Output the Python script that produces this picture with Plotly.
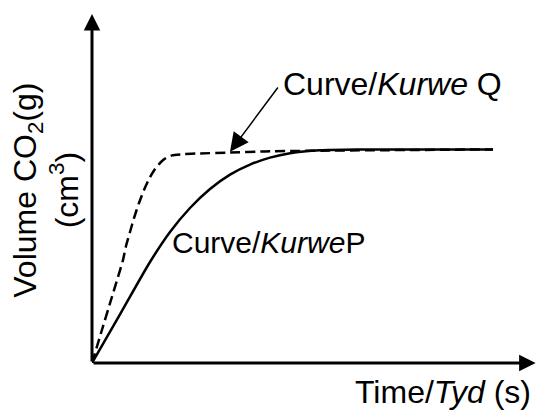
import plotly.graph_objects as go

# Curve P (solid) - time / volume in arbitrary units
time_p = [0, 7.25, 14.5, 19.5, 24.5, 29.5, 34.5, 39.5, 44.5, 49.5, 57, 67, 100.25]
vol_p = [0, 12.6, 25.25, 32.75, 38.75, 43.5, 47.1, 49.6, 51.35, 52.45, 53.2, 53.4, 53.4]

# Curve Q (dashed)
time_q = [0, 2.25, 4.75, 6.5, 7.75, 8.5, 9.5, 10.5, 11.75, 13, 14.25, 15.75, 17.25, 18.5, 20, 23.25, 27, 34.5, 43.25, 59.5, 100.25]
vol_q = [0, 7.5, 15.75, 21.5, 25.75, 29.25, 32.75, 36.25, 40, 43.25, 46, 48.5, 50.25, 51.25, 51.9, 52.25, 52.4, 52.6, 52.9, 53.1, 53.4]

label_p = "Curve/<i>Kurwe</i>P"
label_q = "Curve/<i>Kurwe</i> Q"
x_title = "Time/<i>Tyd</i> (s)"
y_title = "Volume CO<sub>2</sub>(g)<br>(cm<sup>3</sup>)"

X_MAX = 111
Y_MAX = 87.25

fig = go.Figure()
fig.add_trace(go.Scatter(x=time_q, y=vol_q, mode="lines",
                         line=dict(color="black", width=2.5, dash="10px,5px", shape="spline", smoothing=0.5),
                         hoverinfo="skip", cliponaxis=False))
fig.add_trace(go.Scatter(x=time_p, y=vol_p, mode="lines",
                         line=dict(color="black", width=2.5, shape="spline", smoothing=0.7),
                         hoverinfo="skip", cliponaxis=False))

font = dict(family="Liberation Sans, Arial, sans-serif", size=32, color="black")
font_p = dict(family="Liberation Sans, Arial, sans-serif", size=30, color="black")

annotations = [
    # y axis arrow
    dict(x=0, y=Y_MAX, ax=0, ay=0, xref="x", yref="y", axref="x", ayref="y",
         showarrow=True, arrowhead=2, arrowsize=1.1, arrowwidth=3, arrowcolor="black", text=""),
    # x axis arrow
    dict(x=110.9, y=0, ax=0, ay=0, xref="x", yref="y", axref="x", ayref="y",
         showarrow=True, arrowhead=2, arrowsize=1.1, arrowwidth=3, arrowcolor="black", text=""),
    # pointer to curve Q
    dict(x=34.5, y=52.8, ax=46.75, ay=69.25, xref="x", yref="y", axref="x", ayref="y",
         showarrow=True, arrowhead=2, arrowsize=2.5, arrowwidth=1.5, arrowcolor="black", text=""),
    dict(x=47.25, y=69.75, xref="x", yref="y", text=label_q, showarrow=False,
         xanchor="left", yanchor="middle", font=font),
    dict(x=19.5, y=30.25, xref="x", yref="y", text=label_p, showarrow=False,
         xanchor="left", yanchor="middle", font=font_p),
    dict(x=0.993, y=-0.083, xref="paper", yref="paper", text=x_title, showarrow=False,
         xanchor="right", yanchor="middle", font=font),
    dict(x=-0.104, y=0.496, xref="paper", yref="paper", text=y_title, showarrow=False,
         textangle=-90, xanchor="center", yanchor="middle", align="center", font=font),
]

fig.update_layout(
    width=536, height=410, autosize=False,
    margin=dict(l=92, r=0, t=14, b=47, pad=0),
    paper_bgcolor="white", plot_bgcolor="white",
    showlegend=False,
    annotations=annotations,
    xaxis=dict(range=[0, X_MAX], showgrid=False, zeroline=False, showticklabels=False,
               ticks="", showline=False, fixedrange=True),
    yaxis=dict(range=[0, Y_MAX], showgrid=False, zeroline=False, showticklabels=False,
               ticks="", showline=False, fixedrange=True),
)

fig.write_html("out.html", config={"displayModeBar": False},
               post_script="document.body.style.margin='0';")
